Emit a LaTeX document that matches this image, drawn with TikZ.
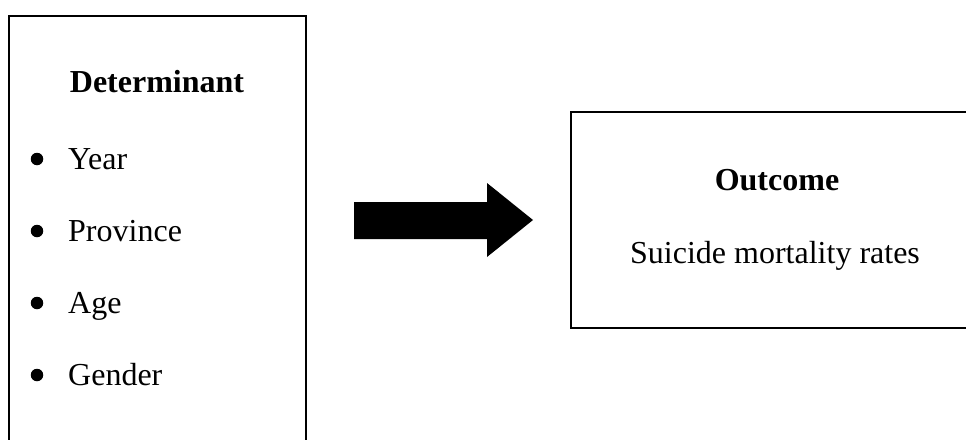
\documentclass[tikz,border=0pt]{standalone}
\usepackage{fontspec}
\setmainfont{Liberation Serif}
\begin{document}
\begin{tikzpicture}[x=1pt,y=-1pt,
  boxline/.style={draw=black,line width=1.7pt},
  txt/.style={inner sep=0pt,font=\fontsize{32}{38}\selectfont},
  head/.style={txt,font=\fontsize{32}{38}\selectfont\bfseries},
  dot/.style={circle,fill=black,inner sep=0pt,minimum size=12.5pt}]
\useasboundingbox (0,0) rectangle (966,439);
\fill[white] (0,0) rectangle (966,439);
\begin{scope}
\clip (0,0) rectangle (966,439);
% left box
\draw[boxline] (9,460) -- (9,16) -- (306,16) -- (306,460);
% right box
\draw[boxline] (990,112) -- (571,112) -- (571,328) -- (990,328);
\end{scope}
% left texts
\node[head,anchor=base] (det) at (157,92) {Determinant};
\node[dot] (b1) at (37,159) {};
\node[txt,anchor=base west] (year) at (68,169) {Year};
\node[dot] (b2) at (37,231) {};
\node[txt,anchor=base west] (prov) at (68,241) {Province};
\node[dot] (b3) at (37,303) {};
\node[txt,anchor=base west] (age) at (68,313) {Age};
\node[dot] (b4) at (37,375) {};
\node[txt,anchor=base west] (gender) at (68,385) {Gender};
% arrow
\fill[black] (354,202) -- (487,202) -- (487,183) -- (533,220) -- (487,257) -- (487,239) -- (354,239) -- cycle;
% right texts
\node[head,anchor=base] (out) at (777,190) {Outcome};
\node[txt,anchor=base] (rate) at (775,263) {Suicide mortality rates};
\end{tikzpicture}
\end{document}
